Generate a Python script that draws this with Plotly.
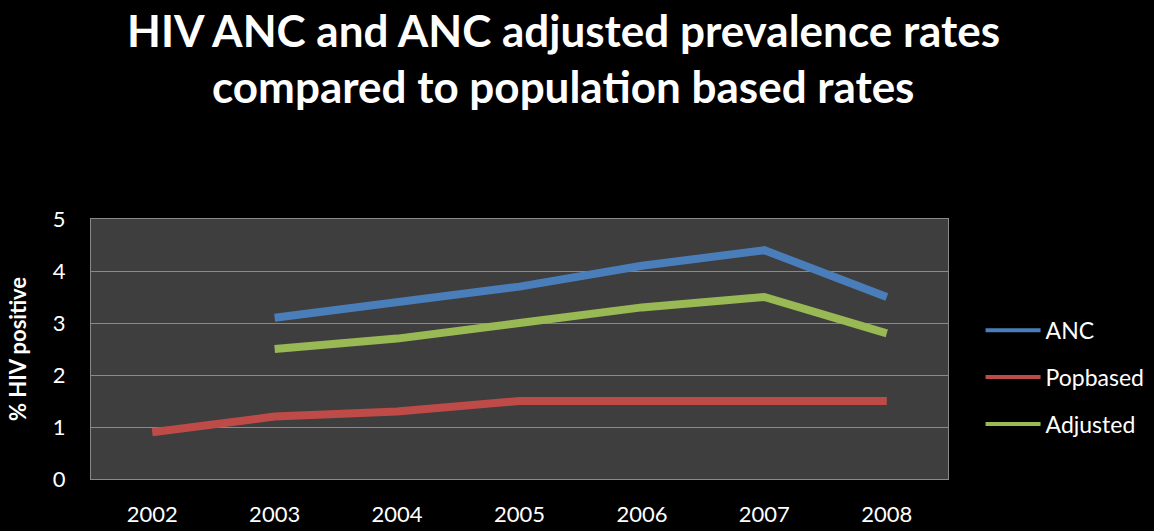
import plotly.graph_objects as go

years = ["2002", "2003", "2004", "2005", "2006", "2007", "2008"]
anc = [None, 3.1, 3.4, 3.7, 4.1, 4.4, 3.5]
popbased = [0.9, 1.2, 1.3, 1.5, 1.5, 1.5, 1.5]
adjusted = [None, 2.5, 2.7, 3.0, 3.3, 3.5, 2.8]
title_lines = ["HIV ANC and ANC adjusted prevalence rates",
               "compared to population based rates"]

font_family = "Lato, 'Open Sans', sans-serif"

fig = go.Figure()
for name, vals, col in [("ANC", anc, "#4A7EBB"),
                        ("Popbased", popbased, "#BE4B48"),
                        ("Adjusted", adjusted, "#98B954")]:
    fig.add_trace(go.Scatter(x=years, y=vals, name=name, mode="lines",
                             legendgroup=name, showlegend=False,
                             line=dict(color=col, width=8)))
    # legend entry with the thinner sample line seen in the reference
    fig.add_trace(go.Scatter(x=[None], y=[None], name=name, mode="lines",
                             legendgroup=name, showlegend=True,
                             line=dict(color=col, width=4)))

# title lines as annotations (paper coords: 0 = plot bottom, 1 = plot top)
for txt, ypix in zip(title_lines, [30, 86]):
    fig.add_annotation(text="<b>" + txt + "</b>", xref="paper", yref="paper",
                       x=0.551, y=(479 - ypix) / 260, xanchor="center",
                       yanchor="middle", showarrow=False,
                       font=dict(size=44, color="white", family=font_family))

fig.update_layout(
    width=1154, height=531,
    paper_bgcolor="black", plot_bgcolor="#3E3E3E",
    margin=dict(l=91, r=206, t=219, b=52, autoexpand=False),
    font=dict(family=font_family, color="white", size=22),
    legend=dict(x=1.038, y=0.655, xanchor="left", yanchor="top",
                font=dict(size=23, color="white"), tracegroupgap=14,
                traceorder="grouped", itemwidth=55,
                bgcolor="rgba(0,0,0,0)"),
    showlegend=True,
)
fig.update_xaxes(type="category", range=[-0.5, 6.5], showgrid=False,
                 automargin=False,
                 showline=True, linecolor="#8A8A8A", linewidth=1, mirror=True,
                 ticks="outside", ticklen=16, tickcolor="rgba(0,0,0,0)",
                 tickfont=dict(size=22, color="white"))
fig.update_yaxes(range=[0, 5], dtick=1, showgrid=True, gridcolor="#8A8A8A",
                 gridwidth=1, zeroline=False, automargin=False,
                 showline=True, linecolor="#8A8A8A", linewidth=1, mirror=True,
                 ticks="outside", ticklen=20, tickcolor="rgba(0,0,0,0)",
                 tickfont=dict(size=22, color="white"),
                 title=dict(text="<b>% HIV positive</b>", standoff=20,
                            font=dict(size=22, color="white")))

fig.write_html("out.html")
